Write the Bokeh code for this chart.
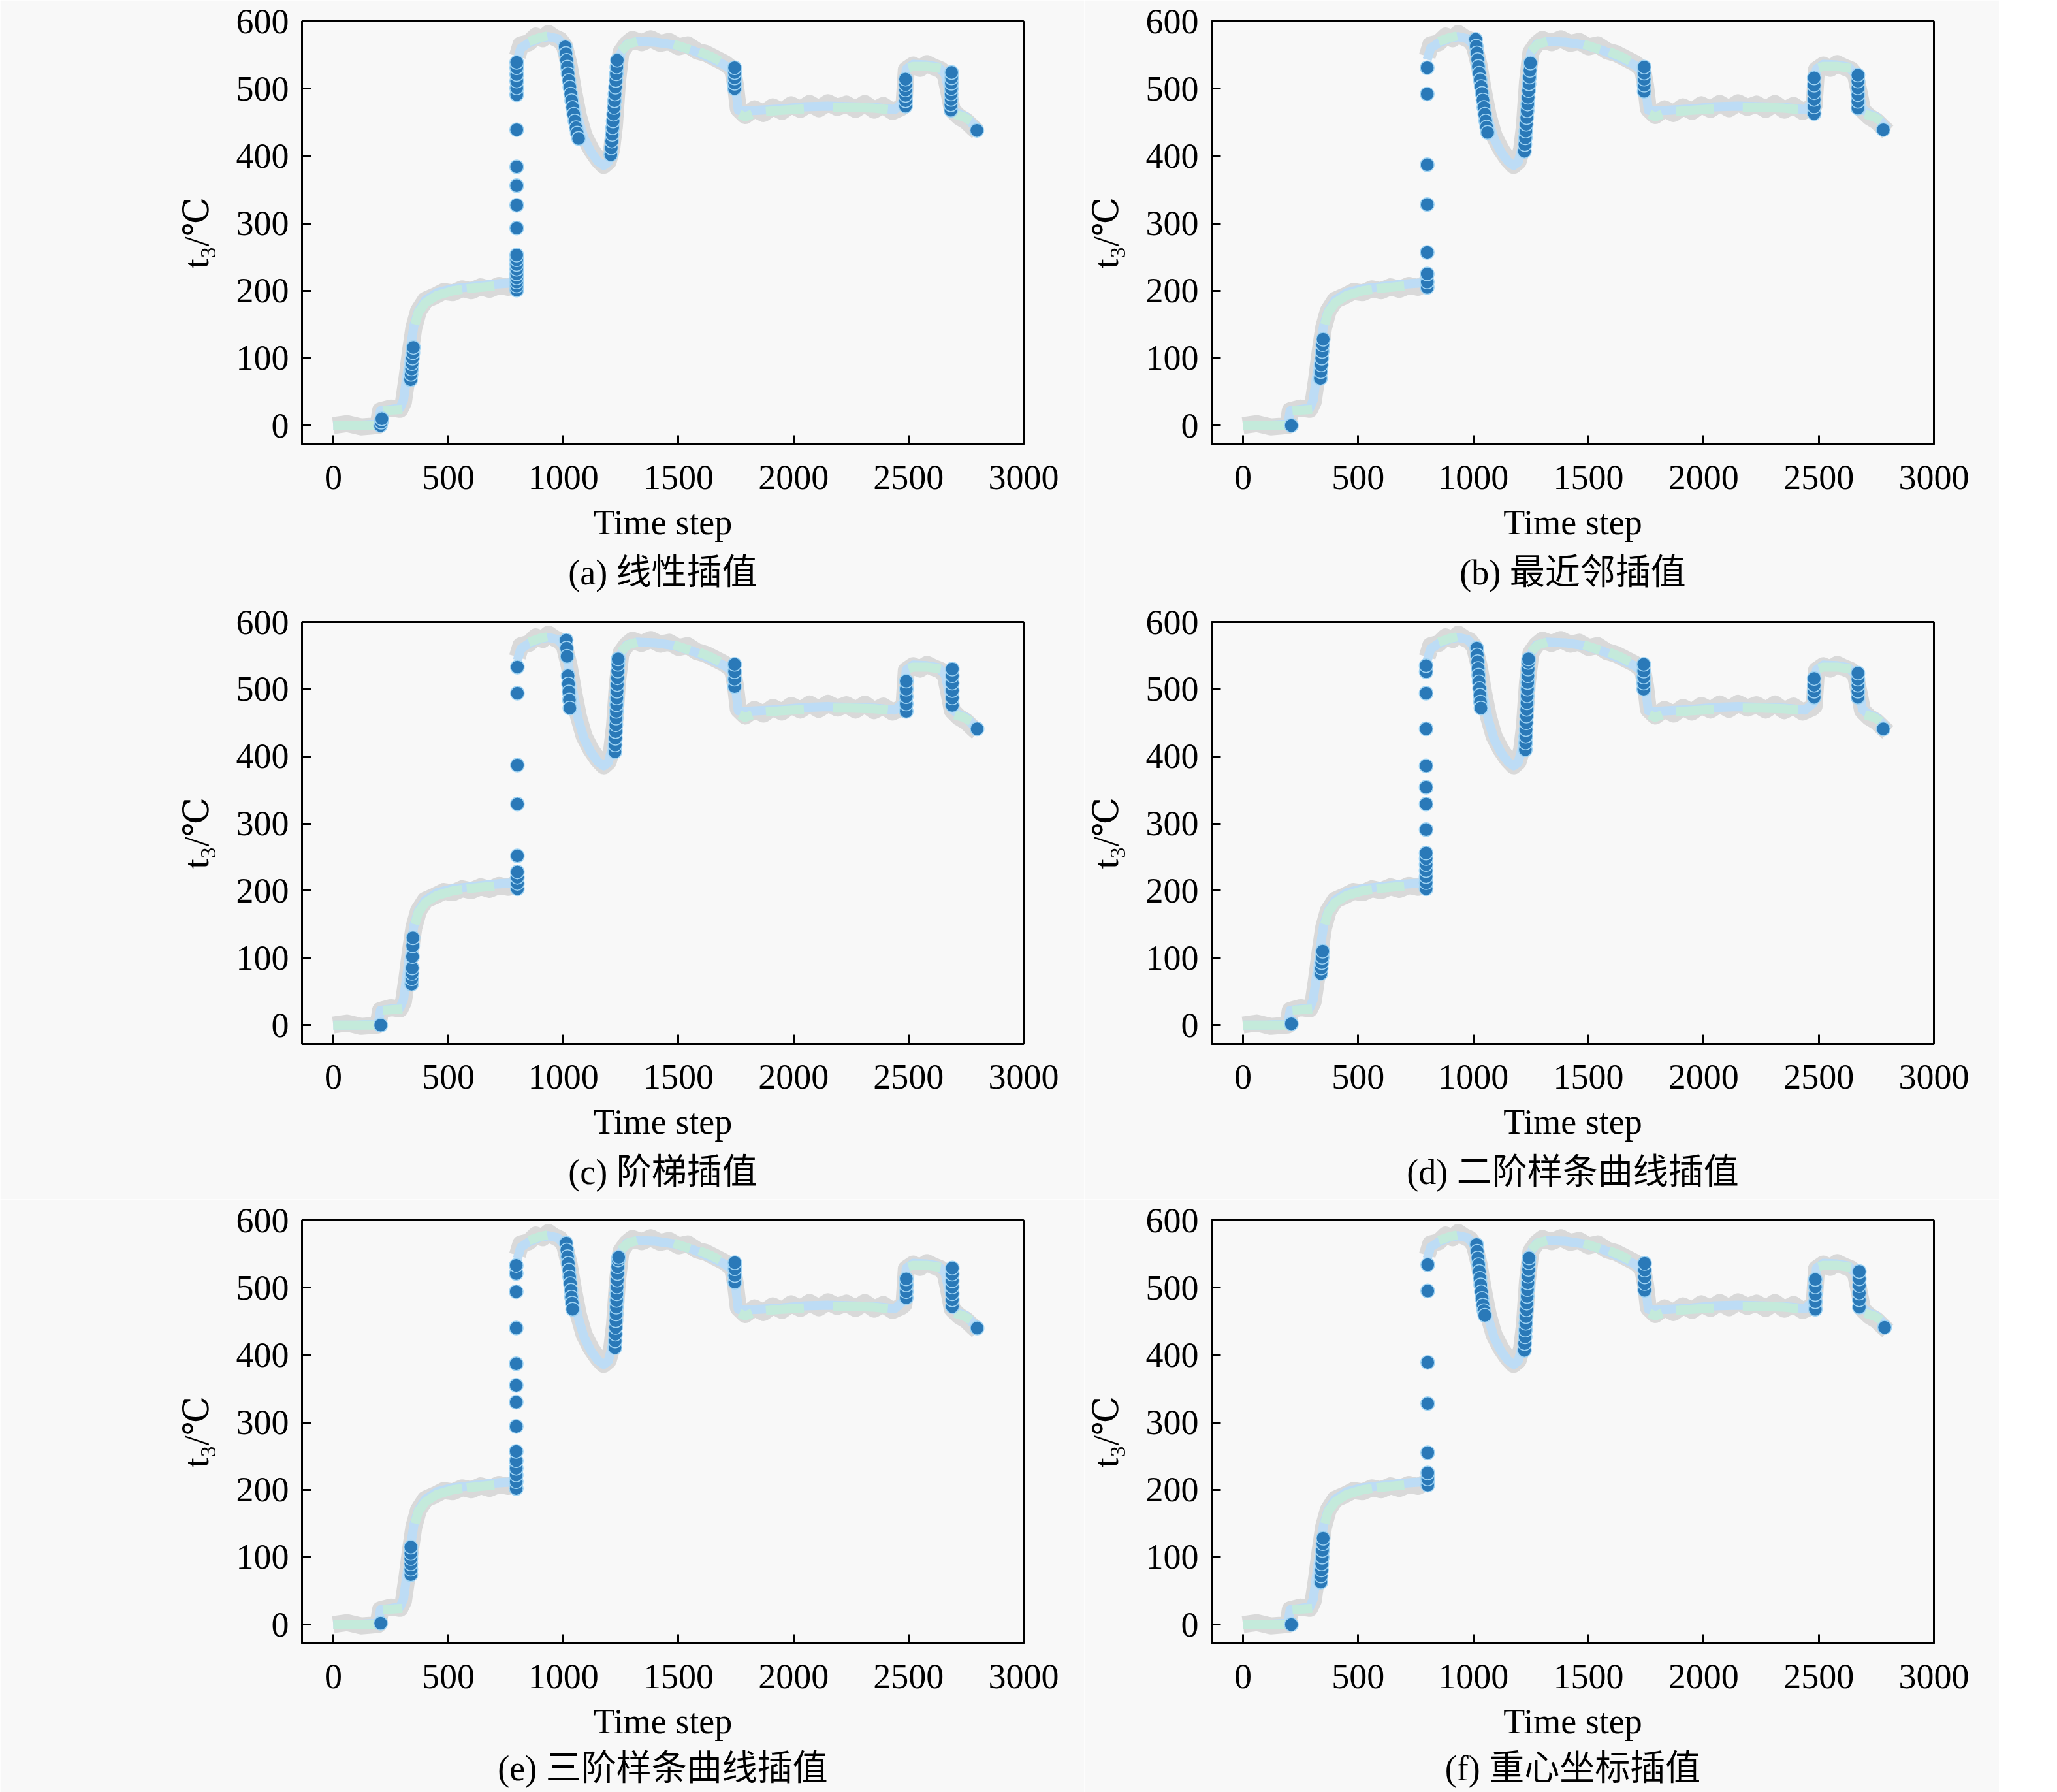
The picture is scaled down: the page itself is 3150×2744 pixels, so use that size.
from bokeh.plotting import figure
from bokeh.layouts import column, row
from bokeh.models import Title, FixedTicker, Range1d
from bokeh.embed import file_html
from bokeh.resources import INLINE

nan = float("nan")

# ---------------- data ----------------
X_TICKS = [0, 500, 1000, 1500, 2000, 2500, 3000]
Y_TICKS = [0, 100, 200, 300, 400, 500, 600]
Y_LABEL = "t₃/℃"
X_LABEL = "Time step"
CAPTIONS = ["(a) 线性插值", "(b) 最近邻插值", "(c) 阶梯插值",
            "(d) 二阶样条曲线插值", "(e) 三阶样条曲线插值", "(f) 重心坐标插值"]

# ground truth (grey band); nan = gap in the record
T_TRUE = [0, 60, 120, 195, 205, 250, 290, 305, 320, 335, 350, 370, 400, 440, 480, 520, 560, 600, 640, 680,
          720, 760, 795, nan,
          800, 815, 850, 880, 910, 935, 960, 985, 1005, 1025,
          1045, 1065, 1090, 1120, 1150, 1175, 1195, 1210, 1222, 1235,
          1250, 1275, 1300, 1340, 1380, 1420, 1460, 1500, 1540, 1580,
          1620, 1660, 1700, 1735, 1748, 1760, 1790, 1830, 1870, 1910,
          1950, 1990, 2030, 2070, 2110, 2150, 2190, 2230, 2270, 2310,
          2350, 2390, 2430, 2470, 2480, 2490, 2520, 2550, 2580, 2610,
          2640, 2660, 2675, 2690, 2720, 2750, 2780, 2800]
V_TRUE = [0, 3, -2, 0, 22, 26, 24, 35, 70, 110, 145, 170, 186, 192, 199, 197, 203, 200, 206, 202,
          208, 205, 211, nan,
          548, 565, 568, 578, 574, 582, 576, 572, 563, 535,
          495, 460, 430, 410, 395, 386, 392, 410, 445, 510,
          554, 566, 573, 568, 574, 567, 570, 562, 565, 556,
          552, 545, 538, 529, 505, 470, 460, 470, 463, 473,
          466, 476, 469, 478, 470, 479, 472, 477, 469, 478,
          468, 475, 466, 472, 475, 528, 535, 530, 537, 532,
          528, 520, 495, 468, 458, 452, 442, 436]

# interpolated series (light-blue band)
T_BLUE = [0, 100, 195, 205, 250, 290, 305, 320, 335, 350, 370, 400, 450, 520, 600, 700, 795, nan,
          800, 815, 850, 900, 935, 975, 1005, 1025, 1045, 1065, 1090, 1120, 1150, 1175, 1195, 1210,
          1222, 1235, 1250, 1275, 1320, 1400, 1480, 1560, 1640, 1700, 1735, 1748, 1760, 1790, 1850,
          1950, 2050, 2150, 2250, 2350, 2440, 2478, 2490, 2520, 2580, 2630, 2660, 2675, 2690, 2720,
          2750, 2780, 2800]
V_BLUE = [0, 0, 2, 22, 24, 26, 38, 74, 114, 148, 170, 186, 197, 203, 206, 210, 212, nan,
          543, 560, 568, 575, 577, 574, 563, 530, 490, 455, 426, 406, 392, 386, 391, 410,
          447, 512, 553, 566, 570, 569, 565, 557, 545, 535, 526, 503, 468, 467, 468,
          470, 473, 474, 473, 472, 469, 480, 529, 536, 535, 532, 521, 496, 470, 462,
          458, 447, 440]

# observed series with missing stretches (green band)
T_GREEN = [0, 100, 190, nan,
           215, 260, 300, nan,
           355, 370, 400, 450, 520, 560, nan,
           580, 640, 700, nan,
           850, 900, 930, nan,
           1250, 1280, 1320, nan,
           1480, 1550, nan,
           1590, 1640, 1680, nan,
           1765, 1790, 1820, nan,
           1880, 1950, 2045, nan,
           2170, 2250, 2350, 2410, nan,
           2500, 2520, 2580, 2640, nan,
           2700, 2740, 2770]
V_GREEN = [0, 0, 0, nan,
           22, 23, 24, nan,
           150, 168, 182, 193, 200, 202, nan,
           203, 205, 207, nan,
           570, 576, 578, nan,
           556, 566, 570, nan,
           566, 558, nan,
           555, 548, 541, nan,
           462, 458, 462, nan,
           466, 468, 470, nan,
           472, 472, 471, 469, nan,
           531, 533, 533, 530, nan,
           462, 458, 452]

# filled (missing) points of each method
DOT_T_A = [205, 208, 211,
           336, 338, 340, 342, 344, 346, 348,
           797, 797, 797, 797, 797, 797, 797, 797, 797, 797, 797, 797, 797, 797, 797, 797, 797, 797, 797, 797,
           1008, 1011, 1014, 1017, 1020, 1024, 1028, 1032, 1036, 1040, 1045, 1050, 1055, 1060, 1066,
           1206, 1208, 1210, 1212, 1214, 1216, 1218, 1220, 1222, 1224, 1226, 1228, 1230, 1232, 1234,
           1744, 1744, 1744, 1744, 1744,
           2487, 2487, 2487, 2487, 2487, 2487,
           2684, 2684, 2685, 2685, 2686, 2686, 2687, 2687,
           2797]
DOT_V_A = [0, 5, 10,
           68, 76, 84, 92, 100, 108, 116,
           201, 207, 213, 219, 225, 232, 239, 246, 253, 293, 327, 356, 384, 439, 491, 501, 511, 521, 531, 539,
           562, 552, 542, 532, 522, 512, 502, 492, 482, 472, 462, 452, 442, 434, 426,
           402, 412, 422, 432, 442, 452, 462, 472, 482, 492, 502, 512, 522, 532, 542,
           500, 508, 516, 524, 531,
           474, 482, 490, 498, 506, 514,
           468, 476, 484, 492, 500, 508, 516, 524,
           438]

DOT_T_B = [210,
           336, 338, 340, 342, 344, 346, 348,
           800, 800, 800, 800, 800, 800, 800, 800,
           1010, 1013, 1016, 1019, 1022, 1026, 1030, 1034, 1038, 1042, 1046, 1050, 1054, 1058, 1062,
           1222, 1224, 1226, 1228, 1230, 1232, 1234, 1236, 1238, 1240, 1242, 1244, 1246, 1248,
           1742, 1742, 1742, 1742, 1742,
           2480, 2480, 2480, 2480, 2480, 2480,
           2670, 2670, 2670, 2670, 2670, 2670,
           2780]
DOT_V_B = [0,
           70, 80, 90, 100, 110, 120, 128,
           205, 213, 225, 257, 328, 387, 492, 531,
           573, 563, 553, 543, 533, 523, 513, 503, 493, 483, 472, 462, 452, 443, 435,
           407, 417, 427, 437, 447, 457, 467, 477, 487, 497, 507, 517, 527, 538,
           496, 505, 514, 523, 532,
           463, 473, 484, 494, 505, 516,
           471, 481, 491, 501, 511, 520,
           439]

DOT_T_C = [206,
           340, 341, 342, 343, 344, 345, 346,
           800, 800, 800, 800, 800, 800, 800, 800, 800,
           1012, 1014, 1016, 1020, 1022, 1024, 1026, 1028,
           1224, 1225, 1226, 1227, 1228, 1229, 1230, 1231, 1232, 1233, 1234, 1235, 1236, 1237, 1238,
           1744, 1744, 1744, 1744,
           2490, 2490, 2490, 2490, 2490,
           2690, 2690, 2690, 2690, 2690, 2690,
           2798]
DOT_V_C = [0,
           61, 69, 77, 85, 102, 118, 130,
           203, 211, 220, 228, 252, 329, 387, 494, 533,
           573, 561, 549, 520, 508, 496, 484, 472,
           407, 417, 427, 437, 447, 457, 467, 477, 487, 497, 507, 517, 527, 537, 545,
           504, 515, 526, 537,
           467, 478, 489, 500, 512,
           476, 487, 498, 509, 520, 530,
           441]

DOT_T_D = [210,
           338, 340, 342, 344, 346,
           795, 795, 795, 795, 795, 795, 795, 795, 795, 795, 795, 795, 795, 795, 795,
           1015, 1017, 1019, 1021, 1023, 1025, 1027, 1029, 1031, 1033,
           1226, 1227, 1228, 1229, 1230, 1231, 1232, 1233, 1234, 1235, 1236, 1237, 1238, 1239, 1240,
           1740, 1740, 1740, 1740, 1740,
           2480, 2480, 2480, 2480,
           2670, 2670, 2670, 2670, 2670,
           2780]
DOT_V_D = [2,
           77, 85, 93, 101, 110,
           203, 212, 221, 230, 239, 248, 256, 291, 329, 354, 386, 441, 494, 526, 535,
           561, 551, 541, 531, 521, 511, 501, 491, 481, 472,
           410, 420, 430, 440, 450, 460, 470, 480, 490, 500, 510, 520, 530, 540, 545,
           500, 509, 518, 527, 537,
           488, 497, 506, 516,
           488, 497, 506, 515, 524,
           441]

DOT_T_E = [206,
           337, 337, 337, 337, 337, 337,
           795, 795, 795, 795, 795, 795, 795, 795, 795, 795, 795, 795, 795, 795,
           1012, 1015, 1018, 1021, 1024, 1027, 1030, 1033, 1035, 1038, 1040,
           1224, 1225, 1226, 1227, 1228, 1229, 1230, 1231, 1232, 1233, 1234, 1235, 1236, 1238, 1240,
           1745, 1745, 1745, 1745,
           2490, 2490, 2490, 2490,
           2690, 2690, 2690, 2690, 2690, 2690, 2690,
           2798]
DOT_V_E = [2,
           74, 82, 90, 98, 106, 115,
           202, 212, 222, 232, 243, 257, 294, 330, 355, 387, 440, 494, 521, 533,
           566, 556, 546, 536, 526, 516, 506, 496, 486, 477, 468,
           411, 421, 431, 441, 451, 461, 471, 481, 491, 501, 511, 521, 531, 541, 545,
           508, 518, 528, 537,
           485, 494, 504, 513,
           472, 482, 491, 501, 510, 520, 529,
           440]

DOT_T_F = [210,
           338, 339, 341, 342, 344, 345, 347, 348,
           802, 802, 802, 802, 802, 802, 802, 802,
           1014, 1017, 1020, 1023, 1026, 1029, 1032, 1035, 1038, 1042, 1046, 1050,
           1222, 1223, 1225, 1226, 1228, 1229, 1231, 1232, 1234, 1235, 1237, 1238, 1240, 1241, 1242,
           1744, 1744, 1744, 1744, 1744,
           2485, 2485, 2485, 2485, 2485,
           2676, 2676, 2676, 2676, 2676, 2676,
           2786]
DOT_V_F = [0,
           63, 72, 81, 90, 100, 110, 120, 128,
           207, 216, 225, 255, 328, 389, 495, 534,
           564, 554, 544, 534, 524, 514, 504, 494, 484, 474, 466, 459,
           407, 417, 427, 437, 447, 457, 467, 477, 487, 497, 507, 517, 527, 537, 544,
           496, 506, 516, 526, 536,
           468, 479, 490, 501, 512,
           471, 482, 492, 503, 513, 524,
           441]

DOTS = [(DOT_T_A, DOT_V_A), (DOT_T_B, DOT_V_B), (DOT_T_C, DOT_V_C),
        (DOT_T_D, DOT_V_D), (DOT_T_E, DOT_V_E), (DOT_T_F, DOT_V_F)]

# ---------------- styling ----------------
SERIF = "'Liberation Serif', 'DejaVu Serif', 'Noto Sans CJK SC'"
BG = "#f8f8f8"
FS = "54px"
X0, X1, Y0, Y1 = -136, 3000, -28, 600


def make_panel(idx, width, height, b_left, b_right, b_bottom, cap_standoff):
    p = figure(width=width, height=height, output_backend="svg", toolbar_location=None,
               x_range=Range1d(X0, X1), y_range=Range1d(Y0, Y1),
               min_border_left=b_left, min_border_right=b_right,
               min_border_top=32, min_border_bottom=b_bottom)
    p.background_fill_color = BG
    p.border_fill_color = BG
    p.grid.visible = False
    p.outline_line_color = "black"
    p.outline_line_width = 3
    for ax in (p.xaxis[0], p.yaxis[0]):
        ax.axis_line_width = 3
        ax.axis_line_color = "black"
        ax.major_tick_line_width = 3
        ax.major_tick_line_color = "black"
        ax.major_tick_in = 14
        ax.major_tick_out = 0
        ax.minor_tick_line_color = None
        ax.major_label_text_font = SERIF
        ax.major_label_text_font_size = FS
        ax.major_label_text_color = "black"
        ax.axis_label_text_font = SERIF
        ax.axis_label_text_font_size = FS
        ax.axis_label_text_font_style = "normal"
        ax.axis_label_text_color = "black"
    p.yaxis.major_label_standoff = 20
    p.xaxis.major_label_standoff = 32
    p.xaxis.ticker = FixedTicker(ticks=X_TICKS)
    p.yaxis.ticker = FixedTicker(ticks=Y_TICKS)
    p.xaxis.axis_label = X_LABEL
    p.xaxis.axis_label_standoff = 18
    p.yaxis.axis_label = Y_LABEL
    p.yaxis.axis_label_standoff = 28

    p.line(T_TRUE, V_TRUE, line_color="#d9d9d9", line_width=26, line_join="round")
    p.line(T_BLUE, V_BLUE, line_color="#bddcf5", line_width=14, line_join="round")
    p.line(T_GREEN, V_GREEN, line_color="#c4eadb", line_width=14, line_join="round")
    dt, dv = DOTS[idx]
    p.scatter(dt, dv, size=21, fill_color="#2a79b8", line_color="#9fd3f3", line_width=1.5)

    p.add_layout(Title(text=CAPTIONS[idx], align="center", text_font=SERIF, text_font_size=FS,
                       text_font_style="normal", text_color="black", standoff=cap_standoff), "below")
    return p


rows = []
row_heights = [920, 916, 908]
row_bottoms = [240, 233, 227]
cap_standoffs = [24, 24, 14]
for r in range(3):
    pl = make_panel(2 * r, 1660, row_heights[r], 462, 93, row_bottoms[r], cap_standoffs[r])
    pr = make_panel(2 * r + 1, 1401, row_heights[r], 192, 100, row_bottoms[r], cap_standoffs[r])
    rows.append(row(pl, pr))

layout = column(*rows)
open("out.html", "w").write(file_html(layout, INLINE))
